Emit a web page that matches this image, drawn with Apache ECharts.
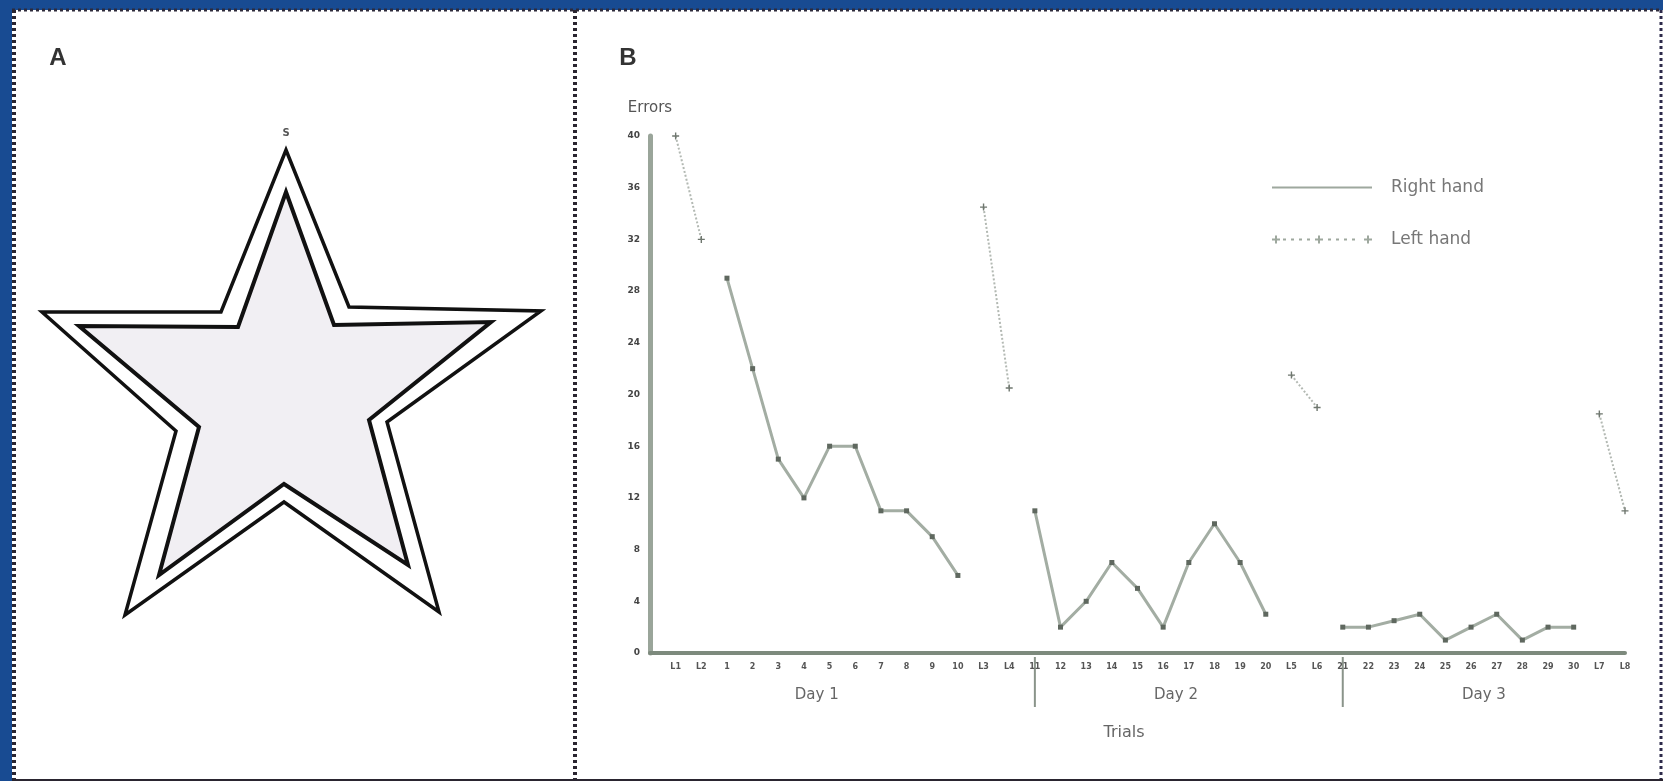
<!DOCTYPE html>
<html lang="en">
  <head>
    <meta charset="UTF-8" />
    <meta name="viewport" content="width=device-width, initial-scale=1.0" />
    <script src="https://cdn.jsdelivr.net/npm/echarts@6/dist/echarts.min.js"></script>
    <title>Mirror drawing</title>
    <style>
      html, body { margin: 0; padding: 0; }
      #app { width: 1663px; height: 781px; }
    </style>
  </head>
  <body>
    <div id="app"></div>

    <script>
      // trials: 2 left-hand trials, 10 right-hand, 2 left-hand, per day
      const trialLabels = ['',
        'L1', 'L2', '1', '2', '3', '4', '5', '6', '7', '8', '9', '10', 'L3', 'L4',
        '11', '12', '13', '14', '15', '16', '17', '18', '19', '20', 'L5', 'L6',
        '21', '22', '23', '24', '25', '26', '27', '28', '29', '30', 'L7', 'L8'];

      const rightHand = [null, null, null,
        29, 22, 15, 12, 16, 16, 11, 11, 9, 6, null, null,
        11, 2, 4, 7, 5, 2, 7, 10, 7, 3, null, null,
        2, 2, 2.5, 3, 1, 2, 3, 1, 2, 2, null, null];

      const leftHand = [null, 40, 32,
        null, null, null, null, null, null, null, null, null, null, 34.5, 20.5,
        null, null, null, null, null, null, null, null, null, null, 21.5, 19,
        null, null, null, null, null, null, null, null, null, null, 18.5, 11];

      const yTicks = [0, 4, 8, 12, 16, 20, 24, 28, 32, 36, 40];

      const days = [
        { name: 'Day 1', at: [6, 7] },
        { name: 'Day 2', at: [20, 21] },
        { name: 'Day 3', at: [32, 33] }
      ];
      const daySeparators = [15, 27];

      // panel A star, outer and inner outline (panel units)
      const starOuter = [[274, 140], [337, 297], [529, 301], [375, 412], [427, 602], [272, 492],
        [113, 605], [164, 421], [30, 302], [209, 302]];
      const starInner = [[274, 182], [322, 315], [479, 312], [357, 410], [396, 555], [272, 474],
        [147, 565], [187, 417], [67, 316], [226, 317]];

      const echart = echarts.init(document.getElementById('app'));
      const font = 'DejaVu Sans';
      const plus = 'path://M4,0H6V4H10V6H6V10H4V6H0V4H4Z';
      const rightIcon = 'path://M0,6H100V8H0Z';
      const leftIcon = 'path://M2,3h2v3h3v2h-3v3h-2v-3h-3v-2h3z' +
        'M10,6h3v2h-3z M18,6h3v2h-3z M26,6h3v2h-3z M34,6h3v2h-3z' +
        'M45,3h2v3h3v2h-3v3h-2v-3h-3v-2h3z' +
        'M55,6h3v2h-3z M63,6h3v2h-3z M71,6h3v2h-3z M79,6h3v2h-3z' +
        'M94,3h2v3h3v2h-3v3h-2v-3h-3v-2h3z';

      echart.setOption({
        backgroundColor: '#184b92',
        animation: false,
        textStyle: { fontFamily: font },
        legend: {
          orient: 'vertical',
          left: 1267,
          top: 174,
          itemWidth: 100,
          itemHeight: 14,
          itemGap: 35,
          textStyle: { fontSize: 17, color: '#777', padding: [0, 0, 0, 14] },
          data: [
            { name: 'Right hand', icon: rightIcon, itemStyle: { color: '#9ea89e' } },
            { name: 'Left hand', icon: leftIcon, itemStyle: { color: '#9ea89e' } }
          ]
        },
        grid: [
          { left: 650, top: 136, width: 975, bottom: 128 },
          { left: 12, top: 10, width: 563, height: 771 }
        ],
        xAxis: [
          {
            type: 'category',
            gridIndex: 0,
            data: trialLabels,
            boundaryGap: false,
            axisLine: { lineStyle: { color: '#7d8a7d', width: 4 } },
            axisTick: { show: false },
            axisLabel: { interval: 0, fontSize: 8, fontWeight: 'bold', color: '#555', margin: 10 }
          },
          { type: 'value', gridIndex: 1, min: 0, max: 563, show: false }
        ],
        yAxis: [
          {
            type: 'value',
            gridIndex: 0,
            min: 0,
            max: 40,
            interval: 4,
            name: 'Errors',
            nameGap: 20,
            nameTextStyle: { fontSize: 15, color: '#555', align: 'center' },
            axisLine: { show: true, lineStyle: { color: '#9aa59a', width: 5 } },
            axisTick: { show: false },
            splitLine: { show: false },
            axisLabel: {
              fontSize: 9, fontWeight: 'bold', color: '#444', margin: 10,
              formatter: v => (yTicks.indexOf(v) >= 0 ? String(v) : '')
            }
          },
          { type: 'value', gridIndex: 1, min: 0, max: 771, inverse: true, show: false }
        ],
        series: [
          {
            name: 'Right hand',
            type: 'line',
            data: rightHand,
            connectNulls: false,
            symbol: 'rect',
            symbolSize: 5,
            lineStyle: { color: '#a3ada3', width: 3 },
            itemStyle: { color: '#5f685f' }
          },
          {
            name: 'Left hand',
            type: 'line',
            data: leftHand,
            connectNulls: false,
            symbol: plus,
            symbolSize: 7,
            lineStyle: { color: '#b3b9b3', width: 2, type: 'dotted' },
            itemStyle: { color: '#6f776f' }
          },
          {
            name: 'star',
            type: 'custom',
            xAxisIndex: 1,
            yAxisIndex: 1,
            data: [[0, 0]],
            silent: true,
            renderItem: function (params, api) {
              return {
                type: 'group',
                children: [
                  {
                    type: 'polygon',
                    shape: { points: starOuter.map(p => api.coord(p)) },
                    style: { fill: '#fff', stroke: '#111', lineWidth: 3.5 }
                  },
                  {
                    type: 'polygon',
                    shape: { points: starInner.map(p => api.coord(p)) },
                    style: { fill: '#f1eff3', stroke: '#111', lineWidth: 4 }
                  }
                ]
              };
            }
          }
        ],
        graphic: [
          { type: 'rect', z: -10, shape: { x: 12, y: 10, width: 1651, height: 771 }, style: { fill: '#fff' } },
          { type: 'line', z: -5, shape: { x1: 12, y1: 10, x2: 1661, y2: 10 }, style: { stroke: '#2d2a3a', lineWidth: 3, lineDash: [3, 3] } },
          { type: 'line', z: -5, shape: { x1: 14, y1: 10, x2: 14, y2: 781 }, style: { stroke: '#2a2530', lineWidth: 4, lineDash: [3, 3] } },
          { type: 'line', z: -5, shape: { x1: 575, y1: 10, x2: 575, y2: 781 }, style: { stroke: '#2a2530', lineWidth: 4, lineDash: [3, 3] } },
          { type: 'line', z: -5, shape: { x1: 1661, y1: 10, x2: 1661, y2: 781 }, style: { stroke: '#2d2a4a', lineWidth: 3, lineDash: [3, 3] } },
          { type: 'line', z: -5, shape: { x1: 12, y1: 780, x2: 1663, y2: 780 }, style: { stroke: '#2a2530', lineWidth: 2 } },
          { type: 'text', x: 58, y: 58, style: { text: 'A', fontSize: 24, fontWeight: 'bold', fontFamily: 'Liberation Sans', fill: '#333', align: 'center', verticalAlign: 'middle' } },
          { type: 'text', x: 628, y: 58, style: { text: 'B', fontSize: 24, fontWeight: 'bold', fontFamily: 'Liberation Sans', fill: '#333', align: 'center', verticalAlign: 'middle' } },
          { type: 'text', x: 286, y: 133, style: { text: 'S', fontSize: 10, fontWeight: 'bold', fontFamily: font, fill: '#555', align: 'center', verticalAlign: 'middle' } },
          { type: 'text', x: 1124, y: 733, style: { text: 'Trials', fontSize: 16, fontFamily: font, fill: '#666', align: 'center', verticalAlign: 'middle' } }
        ]
      });

      // day labels and separators under the trial axis
      const px = i => echart.convertToPixel({ xAxisIndex: 0 }, i);
      const extra = [];
      days.forEach(function (d) {
        extra.push({
          type: 'text',
          x: (px(d.at[0]) + px(d.at[1])) / 2,
          y: 695,
          style: { text: d.name, fontSize: 15, fontFamily: font, fill: '#666', align: 'center', verticalAlign: 'middle' }
        });
      });
      daySeparators.forEach(function (i) {
        extra.push({
          type: 'line',
          shape: { x1: px(i), y1: 657, x2: px(i), y2: 707 },
          style: { stroke: '#8a948a', lineWidth: 2 }
        });
      });
      const opt = echart.getOption();
      echart.setOption({ graphic: opt.graphic[0].elements.map(() => ({})).concat(extra) });
    </script>
  </body>
</html>
